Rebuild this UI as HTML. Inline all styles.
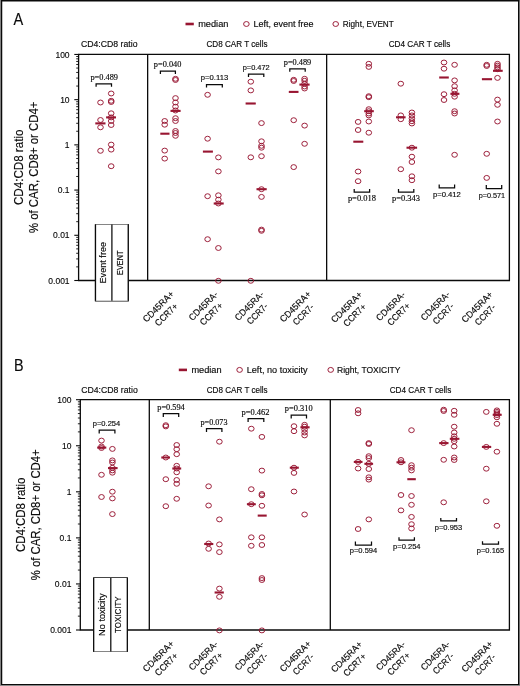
<!DOCTYPE html>
<html><head><meta charset="utf-8"><style>
html,body{margin:0;padding:0;background:#8a8a8a;}
body{width:520px;height:686px;overflow:hidden;}
svg{display:block;will-change:transform;}
text{stroke:#0a0a0a;stroke-width:0.15px;}
</style></head><body>
<svg width="520" height="686" viewBox="0 0 520 686">
<rect x="1" y="0" width="518" height="685" fill="#fff"/>
<line x1="1.6" y1="0" x2="1.6" y2="685.1" stroke="#0a0a0a" stroke-width="1.3"/>
<line x1="1" y1="0.7" x2="519.2" y2="0.7" stroke="#0a0a0a" stroke-width="1.4"/>
<line x1="518.6" y1="0" x2="518.6" y2="685.1" stroke="#0a0a0a" stroke-width="1.2"/>
<line x1="1" y1="684.5" x2="519.2" y2="684.5" stroke="#0a0a0a" stroke-width="1.2"/>
<path d="M78.6 54.45 H509.4 V280.5 H78.6 Z" fill="none" stroke="#0a0a0a" stroke-width="1.3"/>
<line x1="147.65" y1="54.45" x2="147.65" y2="280.5" stroke="#0a0a0a" stroke-width="1.3"/>
<line x1="326.65" y1="54.45" x2="326.65" y2="280.5" stroke="#0a0a0a" stroke-width="1.3"/>
<line x1="74.3" y1="280.5" x2="78.6" y2="280.5" stroke="#0a0a0a" stroke-width="1.1"/>
<line x1="76.19" y1="266.89" x2="78.6" y2="266.89" stroke="#0a0a0a" stroke-width="0.9"/>
<line x1="76.19" y1="258.92" x2="78.6" y2="258.92" stroke="#0a0a0a" stroke-width="0.9"/>
<line x1="76.19" y1="253.28" x2="78.6" y2="253.28" stroke="#0a0a0a" stroke-width="0.9"/>
<line x1="76.19" y1="248.89" x2="78.6" y2="248.89" stroke="#0a0a0a" stroke-width="0.9"/>
<line x1="76.19" y1="245.31" x2="78.6" y2="245.31" stroke="#0a0a0a" stroke-width="0.9"/>
<line x1="76.19" y1="242.29" x2="78.6" y2="242.29" stroke="#0a0a0a" stroke-width="0.9"/>
<line x1="76.19" y1="239.67" x2="78.6" y2="239.67" stroke="#0a0a0a" stroke-width="0.9"/>
<line x1="76.19" y1="237.35" x2="78.6" y2="237.35" stroke="#0a0a0a" stroke-width="0.9"/>
<line x1="74.3" y1="235.29" x2="78.6" y2="235.29" stroke="#0a0a0a" stroke-width="1.1"/>
<line x1="76.19" y1="221.68" x2="78.6" y2="221.68" stroke="#0a0a0a" stroke-width="0.9"/>
<line x1="76.19" y1="213.71" x2="78.6" y2="213.71" stroke="#0a0a0a" stroke-width="0.9"/>
<line x1="76.19" y1="208.07" x2="78.6" y2="208.07" stroke="#0a0a0a" stroke-width="0.9"/>
<line x1="76.19" y1="203.68" x2="78.6" y2="203.68" stroke="#0a0a0a" stroke-width="0.9"/>
<line x1="76.19" y1="200.10" x2="78.6" y2="200.10" stroke="#0a0a0a" stroke-width="0.9"/>
<line x1="76.19" y1="197.08" x2="78.6" y2="197.08" stroke="#0a0a0a" stroke-width="0.9"/>
<line x1="76.19" y1="194.46" x2="78.6" y2="194.46" stroke="#0a0a0a" stroke-width="0.9"/>
<line x1="76.19" y1="192.14" x2="78.6" y2="192.14" stroke="#0a0a0a" stroke-width="0.9"/>
<line x1="74.3" y1="190.07" x2="78.6" y2="190.07" stroke="#0a0a0a" stroke-width="1.1"/>
<line x1="76.19" y1="176.47" x2="78.6" y2="176.47" stroke="#0a0a0a" stroke-width="0.9"/>
<line x1="76.19" y1="168.50" x2="78.6" y2="168.50" stroke="#0a0a0a" stroke-width="0.9"/>
<line x1="76.19" y1="162.86" x2="78.6" y2="162.86" stroke="#0a0a0a" stroke-width="0.9"/>
<line x1="76.19" y1="158.47" x2="78.6" y2="158.47" stroke="#0a0a0a" stroke-width="0.9"/>
<line x1="76.19" y1="154.89" x2="78.6" y2="154.89" stroke="#0a0a0a" stroke-width="0.9"/>
<line x1="76.19" y1="151.87" x2="78.6" y2="151.87" stroke="#0a0a0a" stroke-width="0.9"/>
<line x1="76.19" y1="149.25" x2="78.6" y2="149.25" stroke="#0a0a0a" stroke-width="0.9"/>
<line x1="76.19" y1="146.93" x2="78.6" y2="146.93" stroke="#0a0a0a" stroke-width="0.9"/>
<line x1="74.3" y1="144.87" x2="78.6" y2="144.87" stroke="#0a0a0a" stroke-width="1.1"/>
<line x1="76.19" y1="131.26" x2="78.6" y2="131.26" stroke="#0a0a0a" stroke-width="0.9"/>
<line x1="76.19" y1="123.29" x2="78.6" y2="123.29" stroke="#0a0a0a" stroke-width="0.9"/>
<line x1="76.19" y1="117.65" x2="78.6" y2="117.65" stroke="#0a0a0a" stroke-width="0.9"/>
<line x1="76.19" y1="113.26" x2="78.6" y2="113.26" stroke="#0a0a0a" stroke-width="0.9"/>
<line x1="76.19" y1="109.68" x2="78.6" y2="109.68" stroke="#0a0a0a" stroke-width="0.9"/>
<line x1="76.19" y1="106.66" x2="78.6" y2="106.66" stroke="#0a0a0a" stroke-width="0.9"/>
<line x1="76.19" y1="104.04" x2="78.6" y2="104.04" stroke="#0a0a0a" stroke-width="0.9"/>
<line x1="76.19" y1="101.72" x2="78.6" y2="101.72" stroke="#0a0a0a" stroke-width="0.9"/>
<line x1="74.3" y1="99.66" x2="78.6" y2="99.66" stroke="#0a0a0a" stroke-width="1.1"/>
<line x1="76.19" y1="86.05" x2="78.6" y2="86.05" stroke="#0a0a0a" stroke-width="0.9"/>
<line x1="76.19" y1="78.08" x2="78.6" y2="78.08" stroke="#0a0a0a" stroke-width="0.9"/>
<line x1="76.19" y1="72.44" x2="78.6" y2="72.44" stroke="#0a0a0a" stroke-width="0.9"/>
<line x1="76.19" y1="68.05" x2="78.6" y2="68.05" stroke="#0a0a0a" stroke-width="0.9"/>
<line x1="76.19" y1="64.47" x2="78.6" y2="64.47" stroke="#0a0a0a" stroke-width="0.9"/>
<line x1="76.19" y1="61.45" x2="78.6" y2="61.45" stroke="#0a0a0a" stroke-width="0.9"/>
<line x1="76.19" y1="58.83" x2="78.6" y2="58.83" stroke="#0a0a0a" stroke-width="0.9"/>
<line x1="76.19" y1="56.51" x2="78.6" y2="56.51" stroke="#0a0a0a" stroke-width="0.9"/>
<line x1="74.3" y1="54.45" x2="78.6" y2="54.45" stroke="#0a0a0a" stroke-width="1.1"/>
<text x="69.6" y="283.7" font-size="9.2" text-anchor="end" font-family='"Liberation Sans", sans-serif' fill="#0a0a0a" textLength="21.27" lengthAdjust="spacingAndGlyphs" >0.001</text>
<text x="69.6" y="238.49" font-size="9.2" text-anchor="end" font-family='"Liberation Sans", sans-serif' fill="#0a0a0a" textLength="16.54" lengthAdjust="spacingAndGlyphs" >0.01</text>
<text x="69.6" y="193.28" font-size="9.2" text-anchor="end" font-family='"Liberation Sans", sans-serif' fill="#0a0a0a" textLength="11.82" lengthAdjust="spacingAndGlyphs" >0.1</text>
<text x="69.6" y="148.07" font-size="9.2" text-anchor="end" font-family='"Liberation Sans", sans-serif' fill="#0a0a0a" textLength="4.73" lengthAdjust="spacingAndGlyphs" >1</text>
<text x="69.6" y="102.86" font-size="9.2" text-anchor="end" font-family='"Liberation Sans", sans-serif' fill="#0a0a0a" textLength="9.45" lengthAdjust="spacingAndGlyphs" >10</text>
<text x="69.6" y="57.65" font-size="9.2" text-anchor="end" font-family='"Liberation Sans", sans-serif' fill="#0a0a0a" textLength="14.18" lengthAdjust="spacingAndGlyphs" >100</text>
<text transform="translate(22.8,167.3) rotate(-90)" font-size="12.8" text-anchor="middle" font-family='"Liberation Sans", sans-serif' fill="#0a0a0a" textLength="75.5" lengthAdjust="spacingAndGlyphs">CD4:CD8 ratio</text>
<text transform="translate(38.0,167.3) rotate(-90)" font-size="12.8" text-anchor="middle" font-family='"Liberation Sans", sans-serif' fill="#0a0a0a" textLength="131.5" lengthAdjust="spacingAndGlyphs">% of CAR, CD8+ or CD4+</text>
<text x="13.4" y="24.6" font-size="16.6" text-anchor="start" font-family='"Liberation Sans", sans-serif' fill="#0a0a0a" textLength="9.7" lengthAdjust="spacingAndGlyphs" >A</text>
<line x1="185.5" y1="24.0" x2="193.8" y2="24.0" stroke="#981531" stroke-width="2.6"/>
<text x="198.2" y="26.9" font-size="8.9" text-anchor="start" font-family='"Liberation Sans", sans-serif' fill="#0a0a0a" textLength="30.2" lengthAdjust="spacingAndGlyphs" >median</text>
<ellipse cx="246.4" cy="24.0" rx="2.8" ry="2.45" fill="none" stroke="#981531" stroke-width="0.95"/>
<text x="253.5" y="26.9" font-size="8.9" text-anchor="start" font-family='"Liberation Sans", sans-serif' fill="#0a0a0a" textLength="60.0" lengthAdjust="spacingAndGlyphs" >Left, event free</text>
<ellipse cx="335.7" cy="24.0" rx="2.8" ry="2.45" fill="none" stroke="#981531" stroke-width="0.95"/>
<text x="342.8" y="26.9" font-size="8.9" text-anchor="start" font-family='"Liberation Sans", sans-serif' fill="#0a0a0a" textLength="51.0" lengthAdjust="spacingAndGlyphs" >Right, EVENT</text>
<text x="109.2" y="47.2" font-size="9.4" text-anchor="middle" font-family='"Liberation Sans", sans-serif' fill="#0a0a0a" textLength="56.6" lengthAdjust="spacingAndGlyphs" >CD4:CD8 ratio</text>
<text x="237.0" y="47.2" font-size="9.4" text-anchor="middle" font-family='"Liberation Sans", sans-serif' fill="#0a0a0a" textLength="61.0" lengthAdjust="spacingAndGlyphs" >CD8 CAR T cells</text>
<text x="419.5" y="47.2" font-size="9.4" text-anchor="middle" font-family='"Liberation Sans", sans-serif' fill="#0a0a0a" textLength="61.6" lengthAdjust="spacingAndGlyphs" >CD4 CAR T cells</text>
<path d="M95.5 300.8 V224.6 H128.2 V300.8 Z" fill="#fff" stroke="#0a0a0a" stroke-width="1.25"/>
<path d="M95.5 300.8 V224.6 H128.2 V300.8 Z" fill="#fff" stroke="none"/>
<line x1="95.5" y1="224.6" x2="95.5" y2="300.8" stroke="#0a0a0a" stroke-width="1.25"/>
<line x1="128.2" y1="224.6" x2="128.2" y2="300.8" stroke="#0a0a0a" stroke-width="1.25"/>
<line x1="111.9" y1="224.6" x2="111.9" y2="300.8" stroke="#0a0a0a" stroke-width="1.25"/>
<text transform="translate(106.0,262.7) rotate(-90)" font-size="9.2" text-anchor="middle" font-family='"Liberation Sans", sans-serif' fill="#0a0a0a" textLength="41.5" lengthAdjust="spacingAndGlyphs">Event  free</text>
<text transform="translate(123.2,262.7) rotate(-90)" font-size="9.2" text-anchor="middle" font-family='"Liberation Sans", sans-serif' fill="#0a0a0a" textLength="24.5" lengthAdjust="spacingAndGlyphs">EVENT</text>
<g transform="translate(160.5,308.8) rotate(-45)" font-family='"Liberation Sans", sans-serif' font-size="9.2" fill="#0a0a0a" text-anchor="middle"><text x="0" y="0" textLength="39.8" lengthAdjust="spacingAndGlyphs">CD45RA+</text><text x="0" y="11.3" textLength="28.0" lengthAdjust="spacingAndGlyphs">CCR7+</text></g>
<g transform="translate(205.5,308.1) rotate(-45)" font-family='"Liberation Sans", sans-serif' font-size="9.2" fill="#0a0a0a" text-anchor="middle"><text x="0" y="0" textLength="37.0" lengthAdjust="spacingAndGlyphs">CD45RA-</text><text x="0" y="11.3" textLength="28.0" lengthAdjust="spacingAndGlyphs">CCR7+</text></g>
<g transform="translate(251.5,308.1) rotate(-45)" font-family='"Liberation Sans", sans-serif' font-size="9.2" fill="#0a0a0a" text-anchor="middle"><text x="0" y="0" textLength="37.0" lengthAdjust="spacingAndGlyphs">CD45RA-</text><text x="0" y="11.3" textLength="25.2" lengthAdjust="spacingAndGlyphs">CCR7-</text></g>
<g transform="translate(297.5,308.8) rotate(-45)" font-family='"Liberation Sans", sans-serif' font-size="9.2" fill="#0a0a0a" text-anchor="middle"><text x="0" y="0" textLength="39.8" lengthAdjust="spacingAndGlyphs">CD45RA+</text><text x="0" y="11.3" textLength="25.2" lengthAdjust="spacingAndGlyphs">CCR7-</text></g>
<g transform="translate(348.8,309.3) rotate(-45)" font-family='"Liberation Sans", sans-serif' font-size="9.2" fill="#0a0a0a" text-anchor="middle"><text x="0" y="0" textLength="39.8" lengthAdjust="spacingAndGlyphs">CD45RA+</text><text x="0" y="11.3" textLength="28.0" lengthAdjust="spacingAndGlyphs">CCR7+</text></g>
<g transform="translate(392.9,308.3) rotate(-45)" font-family='"Liberation Sans", sans-serif' font-size="9.2" fill="#0a0a0a" text-anchor="middle"><text x="0" y="0" textLength="37.0" lengthAdjust="spacingAndGlyphs">CD45RA-</text><text x="0" y="11.3" textLength="28.0" lengthAdjust="spacingAndGlyphs">CCR7+</text></g>
<g transform="translate(437.5,308.1) rotate(-45)" font-family='"Liberation Sans", sans-serif' font-size="9.2" fill="#0a0a0a" text-anchor="middle"><text x="0" y="0" textLength="37.0" lengthAdjust="spacingAndGlyphs">CD45RA-</text><text x="0" y="11.3" textLength="25.2" lengthAdjust="spacingAndGlyphs">CCR7-</text></g>
<g transform="translate(479.4,309.1) rotate(-45)" font-family='"Liberation Sans", sans-serif' font-size="9.2" fill="#0a0a0a" text-anchor="middle"><text x="0" y="0" textLength="39.8" lengthAdjust="spacingAndGlyphs">CD45RA+</text><text x="0" y="11.3" textLength="25.2" lengthAdjust="spacingAndGlyphs">CCR7-</text></g>
<ellipse cx="100.5" cy="102.5" rx="2.8" ry="2.45" fill="none" stroke="#981531" stroke-width="0.95"/>
<ellipse cx="100.5" cy="120" rx="2.8" ry="2.45" fill="none" stroke="#981531" stroke-width="0.95"/>
<ellipse cx="100.5" cy="127.3" rx="2.8" ry="2.45" fill="none" stroke="#981531" stroke-width="0.95"/>
<ellipse cx="100.5" cy="150.8" rx="2.8" ry="2.45" fill="none" stroke="#981531" stroke-width="0.95"/>
<ellipse cx="111.2" cy="93.5" rx="2.8" ry="2.45" fill="none" stroke="#981531" stroke-width="0.95"/>
<ellipse cx="111.2" cy="100.8" rx="2.8" ry="2.45" fill="none" stroke="#981531" stroke-width="0.95"/>
<ellipse cx="111.2" cy="102" rx="2.8" ry="2.45" fill="none" stroke="#981531" stroke-width="0.95"/>
<ellipse cx="111.2" cy="113.3" rx="2.8" ry="2.45" fill="none" stroke="#981531" stroke-width="0.95"/>
<ellipse cx="111.2" cy="117.4" rx="2.8" ry="2.45" fill="none" stroke="#981531" stroke-width="0.95"/>
<ellipse cx="111.2" cy="121" rx="2.8" ry="2.45" fill="none" stroke="#981531" stroke-width="0.95"/>
<ellipse cx="111.2" cy="125" rx="2.8" ry="2.45" fill="none" stroke="#981531" stroke-width="0.95"/>
<ellipse cx="111.2" cy="144.6" rx="2.8" ry="2.45" fill="none" stroke="#981531" stroke-width="0.95"/>
<ellipse cx="111.2" cy="149.6" rx="2.8" ry="2.45" fill="none" stroke="#981531" stroke-width="0.95"/>
<ellipse cx="111.2" cy="166.2" rx="2.8" ry="2.45" fill="none" stroke="#981531" stroke-width="0.95"/>
<ellipse cx="164.7" cy="121" rx="2.8" ry="2.45" fill="none" stroke="#981531" stroke-width="0.95"/>
<ellipse cx="164.7" cy="124.7" rx="2.8" ry="2.45" fill="none" stroke="#981531" stroke-width="0.95"/>
<ellipse cx="164.7" cy="150.6" rx="2.8" ry="2.45" fill="none" stroke="#981531" stroke-width="0.95"/>
<ellipse cx="164.7" cy="158.6" rx="2.8" ry="2.45" fill="none" stroke="#981531" stroke-width="0.95"/>
<ellipse cx="175.5" cy="78.8" rx="2.8" ry="2.45" fill="none" stroke="#981531" stroke-width="0.95"/>
<ellipse cx="175.5" cy="80" rx="2.8" ry="2.45" fill="none" stroke="#981531" stroke-width="0.95"/>
<ellipse cx="175.5" cy="98.1" rx="2.8" ry="2.45" fill="none" stroke="#981531" stroke-width="0.95"/>
<ellipse cx="175.5" cy="102.5" rx="2.8" ry="2.45" fill="none" stroke="#981531" stroke-width="0.95"/>
<ellipse cx="175.5" cy="106.7" rx="2.8" ry="2.45" fill="none" stroke="#981531" stroke-width="0.95"/>
<ellipse cx="175.5" cy="110.5" rx="2.8" ry="2.45" fill="none" stroke="#981531" stroke-width="0.95"/>
<ellipse cx="175.5" cy="118.2" rx="2.8" ry="2.45" fill="none" stroke="#981531" stroke-width="0.95"/>
<ellipse cx="175.5" cy="121" rx="2.8" ry="2.45" fill="none" stroke="#981531" stroke-width="0.95"/>
<ellipse cx="175.5" cy="131" rx="2.8" ry="2.45" fill="none" stroke="#981531" stroke-width="0.95"/>
<ellipse cx="175.5" cy="133" rx="2.8" ry="2.45" fill="none" stroke="#981531" stroke-width="0.95"/>
<ellipse cx="175.5" cy="135.8" rx="2.8" ry="2.45" fill="none" stroke="#981531" stroke-width="0.95"/>
<ellipse cx="207.6" cy="94.8" rx="2.8" ry="2.45" fill="none" stroke="#981531" stroke-width="0.95"/>
<ellipse cx="207.6" cy="138.7" rx="2.8" ry="2.45" fill="none" stroke="#981531" stroke-width="0.95"/>
<ellipse cx="207.6" cy="196.2" rx="2.8" ry="2.45" fill="none" stroke="#981531" stroke-width="0.95"/>
<ellipse cx="207.6" cy="239.2" rx="2.8" ry="2.45" fill="none" stroke="#981531" stroke-width="0.95"/>
<ellipse cx="218.4" cy="157.4" rx="2.8" ry="2.45" fill="none" stroke="#981531" stroke-width="0.95"/>
<ellipse cx="218.4" cy="171.4" rx="2.8" ry="2.45" fill="none" stroke="#981531" stroke-width="0.95"/>
<ellipse cx="218.4" cy="195.3" rx="2.8" ry="2.45" fill="none" stroke="#981531" stroke-width="0.95"/>
<ellipse cx="218.4" cy="199.7" rx="2.8" ry="2.45" fill="none" stroke="#981531" stroke-width="0.95"/>
<ellipse cx="218.4" cy="203.5" rx="2.8" ry="2.45" fill="none" stroke="#981531" stroke-width="0.95"/>
<ellipse cx="218.4" cy="248" rx="2.8" ry="2.45" fill="none" stroke="#981531" stroke-width="0.95"/>
<ellipse cx="218.4" cy="280.8" rx="2.8" ry="2.45" fill="none" stroke="#981531" stroke-width="0.95"/>
<ellipse cx="250.8" cy="81.7" rx="2.8" ry="2.45" fill="none" stroke="#981531" stroke-width="0.95"/>
<ellipse cx="250.8" cy="90.4" rx="2.8" ry="2.45" fill="none" stroke="#981531" stroke-width="0.95"/>
<ellipse cx="250.8" cy="157.3" rx="2.8" ry="2.45" fill="none" stroke="#981531" stroke-width="0.95"/>
<ellipse cx="250.8" cy="280.8" rx="2.8" ry="2.45" fill="none" stroke="#981531" stroke-width="0.95"/>
<ellipse cx="261.5" cy="123.1" rx="2.8" ry="2.45" fill="none" stroke="#981531" stroke-width="0.95"/>
<ellipse cx="261.5" cy="141.3" rx="2.8" ry="2.45" fill="none" stroke="#981531" stroke-width="0.95"/>
<ellipse cx="261.5" cy="145.8" rx="2.8" ry="2.45" fill="none" stroke="#981531" stroke-width="0.95"/>
<ellipse cx="261.5" cy="147.7" rx="2.8" ry="2.45" fill="none" stroke="#981531" stroke-width="0.95"/>
<ellipse cx="261.5" cy="156.2" rx="2.8" ry="2.45" fill="none" stroke="#981531" stroke-width="0.95"/>
<ellipse cx="261.5" cy="189.2" rx="2.8" ry="2.45" fill="none" stroke="#981531" stroke-width="0.95"/>
<ellipse cx="261.5" cy="196.9" rx="2.8" ry="2.45" fill="none" stroke="#981531" stroke-width="0.95"/>
<ellipse cx="261.5" cy="229.6" rx="2.8" ry="2.45" fill="none" stroke="#981531" stroke-width="0.95"/>
<ellipse cx="261.5" cy="230.8" rx="2.8" ry="2.45" fill="none" stroke="#981531" stroke-width="0.95"/>
<ellipse cx="293.7" cy="79.8" rx="2.8" ry="2.45" fill="none" stroke="#981531" stroke-width="0.95"/>
<ellipse cx="293.7" cy="81" rx="2.8" ry="2.45" fill="none" stroke="#981531" stroke-width="0.95"/>
<ellipse cx="293.7" cy="120.2" rx="2.8" ry="2.45" fill="none" stroke="#981531" stroke-width="0.95"/>
<ellipse cx="293.7" cy="167.1" rx="2.8" ry="2.45" fill="none" stroke="#981531" stroke-width="0.95"/>
<ellipse cx="304.6" cy="78.8" rx="2.8" ry="2.45" fill="none" stroke="#981531" stroke-width="0.95"/>
<ellipse cx="304.6" cy="80.8" rx="2.8" ry="2.45" fill="none" stroke="#981531" stroke-width="0.95"/>
<ellipse cx="304.6" cy="83.7" rx="2.8" ry="2.45" fill="none" stroke="#981531" stroke-width="0.95"/>
<ellipse cx="304.6" cy="86.5" rx="2.8" ry="2.45" fill="none" stroke="#981531" stroke-width="0.95"/>
<ellipse cx="304.6" cy="88.5" rx="2.8" ry="2.45" fill="none" stroke="#981531" stroke-width="0.95"/>
<ellipse cx="304.6" cy="125.6" rx="2.8" ry="2.45" fill="none" stroke="#981531" stroke-width="0.95"/>
<ellipse cx="304.6" cy="143.8" rx="2.8" ry="2.45" fill="none" stroke="#981531" stroke-width="0.95"/>
<ellipse cx="358.1" cy="121.9" rx="2.8" ry="2.45" fill="none" stroke="#981531" stroke-width="0.95"/>
<ellipse cx="358.1" cy="130" rx="2.8" ry="2.45" fill="none" stroke="#981531" stroke-width="0.95"/>
<ellipse cx="358.1" cy="171.5" rx="2.8" ry="2.45" fill="none" stroke="#981531" stroke-width="0.95"/>
<ellipse cx="358.1" cy="181.2" rx="2.8" ry="2.45" fill="none" stroke="#981531" stroke-width="0.95"/>
<ellipse cx="368.8" cy="63.8" rx="2.8" ry="2.45" fill="none" stroke="#981531" stroke-width="0.95"/>
<ellipse cx="368.8" cy="66.9" rx="2.8" ry="2.45" fill="none" stroke="#981531" stroke-width="0.95"/>
<ellipse cx="368.8" cy="96.2" rx="2.8" ry="2.45" fill="none" stroke="#981531" stroke-width="0.95"/>
<ellipse cx="368.8" cy="97.2" rx="2.8" ry="2.45" fill="none" stroke="#981531" stroke-width="0.95"/>
<ellipse cx="368.8" cy="109.2" rx="2.8" ry="2.45" fill="none" stroke="#981531" stroke-width="0.95"/>
<ellipse cx="368.8" cy="111.2" rx="2.8" ry="2.45" fill="none" stroke="#981531" stroke-width="0.95"/>
<ellipse cx="368.8" cy="113.5" rx="2.8" ry="2.45" fill="none" stroke="#981531" stroke-width="0.95"/>
<ellipse cx="368.8" cy="115.4" rx="2.8" ry="2.45" fill="none" stroke="#981531" stroke-width="0.95"/>
<ellipse cx="368.8" cy="121.5" rx="2.8" ry="2.45" fill="none" stroke="#981531" stroke-width="0.95"/>
<ellipse cx="368.8" cy="132.7" rx="2.8" ry="2.45" fill="none" stroke="#981531" stroke-width="0.95"/>
<ellipse cx="400.8" cy="83.7" rx="2.8" ry="2.45" fill="none" stroke="#981531" stroke-width="0.95"/>
<ellipse cx="400.8" cy="115.4" rx="2.8" ry="2.45" fill="none" stroke="#981531" stroke-width="0.95"/>
<ellipse cx="400.8" cy="119.2" rx="2.8" ry="2.45" fill="none" stroke="#981531" stroke-width="0.95"/>
<ellipse cx="400.8" cy="169.2" rx="2.8" ry="2.45" fill="none" stroke="#981531" stroke-width="0.95"/>
<ellipse cx="411.9" cy="112.5" rx="2.8" ry="2.45" fill="none" stroke="#981531" stroke-width="0.95"/>
<ellipse cx="411.9" cy="115.4" rx="2.8" ry="2.45" fill="none" stroke="#981531" stroke-width="0.95"/>
<ellipse cx="411.9" cy="118.3" rx="2.8" ry="2.45" fill="none" stroke="#981531" stroke-width="0.95"/>
<ellipse cx="411.9" cy="121.2" rx="2.8" ry="2.45" fill="none" stroke="#981531" stroke-width="0.95"/>
<ellipse cx="411.9" cy="123.5" rx="2.8" ry="2.45" fill="none" stroke="#981531" stroke-width="0.95"/>
<ellipse cx="411.9" cy="147.7" rx="2.8" ry="2.45" fill="none" stroke="#981531" stroke-width="0.95"/>
<ellipse cx="411.9" cy="156.7" rx="2.8" ry="2.45" fill="none" stroke="#981531" stroke-width="0.95"/>
<ellipse cx="411.9" cy="162" rx="2.8" ry="2.45" fill="none" stroke="#981531" stroke-width="0.95"/>
<ellipse cx="411.9" cy="176.3" rx="2.8" ry="2.45" fill="none" stroke="#981531" stroke-width="0.95"/>
<ellipse cx="411.9" cy="180.2" rx="2.8" ry="2.45" fill="none" stroke="#981531" stroke-width="0.95"/>
<ellipse cx="444.0" cy="62.5" rx="2.8" ry="2.45" fill="none" stroke="#981531" stroke-width="0.95"/>
<ellipse cx="444.0" cy="68.7" rx="2.8" ry="2.45" fill="none" stroke="#981531" stroke-width="0.95"/>
<ellipse cx="444.0" cy="94.2" rx="2.8" ry="2.45" fill="none" stroke="#981531" stroke-width="0.95"/>
<ellipse cx="444.0" cy="100" rx="2.8" ry="2.45" fill="none" stroke="#981531" stroke-width="0.95"/>
<ellipse cx="454.6" cy="64.8" rx="2.8" ry="2.45" fill="none" stroke="#981531" stroke-width="0.95"/>
<ellipse cx="454.6" cy="80.4" rx="2.8" ry="2.45" fill="none" stroke="#981531" stroke-width="0.95"/>
<ellipse cx="454.6" cy="86.2" rx="2.8" ry="2.45" fill="none" stroke="#981531" stroke-width="0.95"/>
<ellipse cx="454.6" cy="90.4" rx="2.8" ry="2.45" fill="none" stroke="#981531" stroke-width="0.95"/>
<ellipse cx="454.6" cy="93.8" rx="2.8" ry="2.45" fill="none" stroke="#981531" stroke-width="0.95"/>
<ellipse cx="454.6" cy="96.7" rx="2.8" ry="2.45" fill="none" stroke="#981531" stroke-width="0.95"/>
<ellipse cx="454.6" cy="111.2" rx="2.8" ry="2.45" fill="none" stroke="#981531" stroke-width="0.95"/>
<ellipse cx="454.6" cy="113.5" rx="2.8" ry="2.45" fill="none" stroke="#981531" stroke-width="0.95"/>
<ellipse cx="454.6" cy="154.8" rx="2.8" ry="2.45" fill="none" stroke="#981531" stroke-width="0.95"/>
<ellipse cx="486.7" cy="64.8" rx="2.8" ry="2.45" fill="none" stroke="#981531" stroke-width="0.95"/>
<ellipse cx="486.7" cy="66" rx="2.8" ry="2.45" fill="none" stroke="#981531" stroke-width="0.95"/>
<ellipse cx="486.7" cy="153.8" rx="2.8" ry="2.45" fill="none" stroke="#981531" stroke-width="0.95"/>
<ellipse cx="486.7" cy="177.9" rx="2.8" ry="2.45" fill="none" stroke="#981531" stroke-width="0.95"/>
<ellipse cx="497.5" cy="63.8" rx="2.8" ry="2.45" fill="none" stroke="#981531" stroke-width="0.95"/>
<ellipse cx="497.5" cy="65.6" rx="2.8" ry="2.45" fill="none" stroke="#981531" stroke-width="0.95"/>
<ellipse cx="497.5" cy="67.4" rx="2.8" ry="2.45" fill="none" stroke="#981531" stroke-width="0.95"/>
<ellipse cx="497.5" cy="69.2" rx="2.8" ry="2.45" fill="none" stroke="#981531" stroke-width="0.95"/>
<ellipse cx="497.5" cy="77.9" rx="2.8" ry="2.45" fill="none" stroke="#981531" stroke-width="0.95"/>
<ellipse cx="497.5" cy="99.6" rx="2.8" ry="2.45" fill="none" stroke="#981531" stroke-width="0.95"/>
<ellipse cx="497.5" cy="104.8" rx="2.8" ry="2.45" fill="none" stroke="#981531" stroke-width="0.95"/>
<ellipse cx="497.5" cy="121.5" rx="2.8" ry="2.45" fill="none" stroke="#981531" stroke-width="0.95"/>
<line x1="95.3" y1="123.4" x2="105.5" y2="123.4" stroke="#981531" stroke-width="2.1"/>
<line x1="106.1" y1="117.4" x2="116.0" y2="117.4" stroke="#981531" stroke-width="2.1"/>
<line x1="160.3" y1="133.7" x2="169.5" y2="133.7" stroke="#981531" stroke-width="2.1"/>
<line x1="170.5" y1="110.9" x2="180.6" y2="110.9" stroke="#981531" stroke-width="2.1"/>
<line x1="202.9" y1="151.6" x2="212.9" y2="151.6" stroke="#981531" stroke-width="2.1"/>
<line x1="213.7" y1="203.5" x2="223.7" y2="203.5" stroke="#981531" stroke-width="2.1"/>
<line x1="245.6" y1="103.5" x2="255.8" y2="103.5" stroke="#981531" stroke-width="2.1"/>
<line x1="256.5" y1="189.2" x2="266.7" y2="189.2" stroke="#981531" stroke-width="2.1"/>
<line x1="288.8" y1="91.9" x2="298.5" y2="91.9" stroke="#981531" stroke-width="2.1"/>
<line x1="299.4" y1="84.6" x2="309.6" y2="84.6" stroke="#981531" stroke-width="2.1"/>
<line x1="353.3" y1="141.7" x2="363.3" y2="141.7" stroke="#981531" stroke-width="2.1"/>
<line x1="364.2" y1="111.2" x2="373.8" y2="111.2" stroke="#981531" stroke-width="2.1"/>
<line x1="396.0" y1="117.3" x2="405.6" y2="117.3" stroke="#981531" stroke-width="2.1"/>
<line x1="406.5" y1="147.7" x2="417.1" y2="147.7" stroke="#981531" stroke-width="2.1"/>
<line x1="439.2" y1="77.5" x2="448.8" y2="77.5" stroke="#981531" stroke-width="2.1"/>
<line x1="450.4" y1="93.8" x2="459.4" y2="93.8" stroke="#981531" stroke-width="2.1"/>
<line x1="481.9" y1="79.2" x2="492.1" y2="79.2" stroke="#981531" stroke-width="2.1"/>
<line x1="493.0" y1="70.8" x2="502.7" y2="70.8" stroke="#981531" stroke-width="2.1"/>
<path d="M96.1 86.8 V83.8 H111.5 V86.8" fill="none" stroke="#0a0a0a" stroke-width="1.25"/>
<text x="104.2" y="79.6" font-size="7.6" text-anchor="middle" font-family='"Liberation Serif", serif' fill="#0a0a0a" textLength="27.5" lengthAdjust="spacingAndGlyphs" >p=0.489</text>
<path d="M160.4 74.0 V71.2 H175.4 V74.0" fill="none" stroke="#0a0a0a" stroke-width="1.25"/>
<text x="167.6" y="66.8" font-size="7.6" text-anchor="middle" font-family='"Liberation Serif", serif' fill="#0a0a0a" textLength="27.5" lengthAdjust="spacingAndGlyphs" >p=0.040</text>
<path d="M206.5 87.5 V84.6 H222.3 V87.5" fill="none" stroke="#0a0a0a" stroke-width="1.25"/>
<text x="214.5" y="79.9" font-size="7.4" text-anchor="middle" font-family='"Liberation Sans", sans-serif' fill="#0a0a0a" textLength="27.3" lengthAdjust="spacingAndGlyphs" >p=0.113</text>
<path d="M248.5 77.0 V74.0 H263.8 V77.0" fill="none" stroke="#0a0a0a" stroke-width="1.25"/>
<text x="256.2" y="69.9" font-size="7.4" text-anchor="middle" font-family='"Liberation Sans", sans-serif' fill="#0a0a0a" textLength="27.0" lengthAdjust="spacingAndGlyphs" >p=0.472</text>
<path d="M289.8 71.7 V68.8 H305.2 V71.7" fill="none" stroke="#0a0a0a" stroke-width="1.25"/>
<text x="297.5" y="65.1" font-size="7.6" text-anchor="middle" font-family='"Liberation Serif", serif' fill="#0a0a0a" textLength="27.5" lengthAdjust="spacingAndGlyphs" >p=0.489</text>
<path d="M354.2 189.0 V192.0 H369.6 V189.0" fill="none" stroke="#0a0a0a" stroke-width="1.25"/>
<text x="361.9" y="201.2" font-size="7.6" text-anchor="middle" font-family='"Liberation Serif", serif' fill="#0a0a0a" textLength="28.0" lengthAdjust="spacingAndGlyphs" >p=0.018</text>
<path d="M398.5 189.0 V192.0 H413.8 V189.0" fill="none" stroke="#0a0a0a" stroke-width="1.25"/>
<text x="406.0" y="201.2" font-size="7.6" text-anchor="middle" font-family='"Liberation Serif", serif' fill="#0a0a0a" textLength="28.0" lengthAdjust="spacingAndGlyphs" >p=0.343</text>
<path d="M439.2 184.6 V187.9 H454.6 V184.6" fill="none" stroke="#0a0a0a" stroke-width="1.25"/>
<text x="446.9" y="196.9" font-size="7.4" text-anchor="middle" font-family='"Liberation Sans", sans-serif' fill="#0a0a0a" textLength="28.0" lengthAdjust="spacingAndGlyphs" >p=0.412</text>
<path d="M486.3 185.0 V188.5 H501.7 V185.0" fill="none" stroke="#0a0a0a" stroke-width="1.25"/>
<text x="491.9" y="197.5" font-size="7.4" text-anchor="middle" font-family='"Liberation Sans", sans-serif' fill="#0a0a0a" textLength="26.5" lengthAdjust="spacingAndGlyphs" >p=0.571</text>
<path d="M80.3 399.7 H509.4 V630.0 H80.3 Z" fill="none" stroke="#0a0a0a" stroke-width="1.3"/>
<line x1="149.3" y1="399.7" x2="149.3" y2="630.0" stroke="#0a0a0a" stroke-width="1.3"/>
<line x1="330.3" y1="399.7" x2="330.3" y2="630.0" stroke="#0a0a0a" stroke-width="1.3"/>
<line x1="76.0" y1="630.0" x2="80.3" y2="630.0" stroke="#0a0a0a" stroke-width="1.1"/>
<line x1="77.89" y1="616.13" x2="80.3" y2="616.13" stroke="#0a0a0a" stroke-width="0.9"/>
<line x1="77.89" y1="608.02" x2="80.3" y2="608.02" stroke="#0a0a0a" stroke-width="0.9"/>
<line x1="77.89" y1="602.26" x2="80.3" y2="602.26" stroke="#0a0a0a" stroke-width="0.9"/>
<line x1="77.89" y1="597.80" x2="80.3" y2="597.80" stroke="#0a0a0a" stroke-width="0.9"/>
<line x1="77.89" y1="594.15" x2="80.3" y2="594.15" stroke="#0a0a0a" stroke-width="0.9"/>
<line x1="77.89" y1="591.07" x2="80.3" y2="591.07" stroke="#0a0a0a" stroke-width="0.9"/>
<line x1="77.89" y1="588.40" x2="80.3" y2="588.40" stroke="#0a0a0a" stroke-width="0.9"/>
<line x1="77.89" y1="586.04" x2="80.3" y2="586.04" stroke="#0a0a0a" stroke-width="0.9"/>
<line x1="76.0" y1="583.94" x2="80.3" y2="583.94" stroke="#0a0a0a" stroke-width="1.1"/>
<line x1="77.89" y1="570.07" x2="80.3" y2="570.07" stroke="#0a0a0a" stroke-width="0.9"/>
<line x1="77.89" y1="561.96" x2="80.3" y2="561.96" stroke="#0a0a0a" stroke-width="0.9"/>
<line x1="77.89" y1="556.20" x2="80.3" y2="556.20" stroke="#0a0a0a" stroke-width="0.9"/>
<line x1="77.89" y1="551.74" x2="80.3" y2="551.74" stroke="#0a0a0a" stroke-width="0.9"/>
<line x1="77.89" y1="548.09" x2="80.3" y2="548.09" stroke="#0a0a0a" stroke-width="0.9"/>
<line x1="77.89" y1="545.01" x2="80.3" y2="545.01" stroke="#0a0a0a" stroke-width="0.9"/>
<line x1="77.89" y1="542.34" x2="80.3" y2="542.34" stroke="#0a0a0a" stroke-width="0.9"/>
<line x1="77.89" y1="539.98" x2="80.3" y2="539.98" stroke="#0a0a0a" stroke-width="0.9"/>
<line x1="76.0" y1="537.88" x2="80.3" y2="537.88" stroke="#0a0a0a" stroke-width="1.1"/>
<line x1="77.89" y1="524.01" x2="80.3" y2="524.01" stroke="#0a0a0a" stroke-width="0.9"/>
<line x1="77.89" y1="515.90" x2="80.3" y2="515.90" stroke="#0a0a0a" stroke-width="0.9"/>
<line x1="77.89" y1="510.14" x2="80.3" y2="510.14" stroke="#0a0a0a" stroke-width="0.9"/>
<line x1="77.89" y1="505.68" x2="80.3" y2="505.68" stroke="#0a0a0a" stroke-width="0.9"/>
<line x1="77.89" y1="502.03" x2="80.3" y2="502.03" stroke="#0a0a0a" stroke-width="0.9"/>
<line x1="77.89" y1="498.95" x2="80.3" y2="498.95" stroke="#0a0a0a" stroke-width="0.9"/>
<line x1="77.89" y1="496.28" x2="80.3" y2="496.28" stroke="#0a0a0a" stroke-width="0.9"/>
<line x1="77.89" y1="493.92" x2="80.3" y2="493.92" stroke="#0a0a0a" stroke-width="0.9"/>
<line x1="76.0" y1="491.82" x2="80.3" y2="491.82" stroke="#0a0a0a" stroke-width="1.1"/>
<line x1="77.89" y1="477.95" x2="80.3" y2="477.95" stroke="#0a0a0a" stroke-width="0.9"/>
<line x1="77.89" y1="469.84" x2="80.3" y2="469.84" stroke="#0a0a0a" stroke-width="0.9"/>
<line x1="77.89" y1="464.08" x2="80.3" y2="464.08" stroke="#0a0a0a" stroke-width="0.9"/>
<line x1="77.89" y1="459.62" x2="80.3" y2="459.62" stroke="#0a0a0a" stroke-width="0.9"/>
<line x1="77.89" y1="455.97" x2="80.3" y2="455.97" stroke="#0a0a0a" stroke-width="0.9"/>
<line x1="77.89" y1="452.89" x2="80.3" y2="452.89" stroke="#0a0a0a" stroke-width="0.9"/>
<line x1="77.89" y1="450.22" x2="80.3" y2="450.22" stroke="#0a0a0a" stroke-width="0.9"/>
<line x1="77.89" y1="447.86" x2="80.3" y2="447.86" stroke="#0a0a0a" stroke-width="0.9"/>
<line x1="76.0" y1="445.76" x2="80.3" y2="445.76" stroke="#0a0a0a" stroke-width="1.1"/>
<line x1="77.89" y1="431.89" x2="80.3" y2="431.89" stroke="#0a0a0a" stroke-width="0.9"/>
<line x1="77.89" y1="423.78" x2="80.3" y2="423.78" stroke="#0a0a0a" stroke-width="0.9"/>
<line x1="77.89" y1="418.02" x2="80.3" y2="418.02" stroke="#0a0a0a" stroke-width="0.9"/>
<line x1="77.89" y1="413.56" x2="80.3" y2="413.56" stroke="#0a0a0a" stroke-width="0.9"/>
<line x1="77.89" y1="409.91" x2="80.3" y2="409.91" stroke="#0a0a0a" stroke-width="0.9"/>
<line x1="77.89" y1="406.83" x2="80.3" y2="406.83" stroke="#0a0a0a" stroke-width="0.9"/>
<line x1="77.89" y1="404.16" x2="80.3" y2="404.16" stroke="#0a0a0a" stroke-width="0.9"/>
<line x1="77.89" y1="401.80" x2="80.3" y2="401.80" stroke="#0a0a0a" stroke-width="0.9"/>
<line x1="76.0" y1="399.7" x2="80.3" y2="399.7" stroke="#0a0a0a" stroke-width="1.1"/>
<text x="71.4" y="633.2" font-size="9.2" text-anchor="end" font-family='"Liberation Sans", sans-serif' fill="#0a0a0a" textLength="21.27" lengthAdjust="spacingAndGlyphs" >0.001</text>
<text x="71.4" y="587.14" font-size="9.2" text-anchor="end" font-family='"Liberation Sans", sans-serif' fill="#0a0a0a" textLength="16.54" lengthAdjust="spacingAndGlyphs" >0.01</text>
<text x="71.4" y="541.08" font-size="9.2" text-anchor="end" font-family='"Liberation Sans", sans-serif' fill="#0a0a0a" textLength="11.82" lengthAdjust="spacingAndGlyphs" >0.1</text>
<text x="71.4" y="495.02" font-size="9.2" text-anchor="end" font-family='"Liberation Sans", sans-serif' fill="#0a0a0a" textLength="4.73" lengthAdjust="spacingAndGlyphs" >1</text>
<text x="71.4" y="448.96" font-size="9.2" text-anchor="end" font-family='"Liberation Sans", sans-serif' fill="#0a0a0a" textLength="9.45" lengthAdjust="spacingAndGlyphs" >10</text>
<text x="71.4" y="402.9" font-size="9.2" text-anchor="end" font-family='"Liberation Sans", sans-serif' fill="#0a0a0a" textLength="14.18" lengthAdjust="spacingAndGlyphs" >100</text>
<text transform="translate(24.5,514.8) rotate(-90)" font-size="12.8" text-anchor="middle" font-family='"Liberation Sans", sans-serif' fill="#0a0a0a" textLength="74.5" lengthAdjust="spacingAndGlyphs">CD4:CD8 ratio</text>
<text transform="translate(40.1,514.8) rotate(-90)" font-size="12.8" text-anchor="middle" font-family='"Liberation Sans", sans-serif' fill="#0a0a0a" textLength="131.0" lengthAdjust="spacingAndGlyphs">% of CAR, CD8+ or CD4+</text>
<text x="13.9" y="370.5" font-size="16.6" text-anchor="start" font-family='"Liberation Sans", sans-serif' fill="#0a0a0a" textLength="9.6" lengthAdjust="spacingAndGlyphs" >B</text>
<line x1="178.8" y1="369.9" x2="187.0" y2="369.9" stroke="#981531" stroke-width="2.6"/>
<text x="191.4" y="372.79" font-size="8.9" text-anchor="start" font-family='"Liberation Sans", sans-serif' fill="#0a0a0a" textLength="30.2" lengthAdjust="spacingAndGlyphs" >median</text>
<ellipse cx="239.6" cy="369.9" rx="2.8" ry="2.45" fill="none" stroke="#981531" stroke-width="0.95"/>
<text x="246.7" y="372.79" font-size="8.9" text-anchor="start" font-family='"Liberation Sans", sans-serif' fill="#0a0a0a" textLength="61.0" lengthAdjust="spacingAndGlyphs" >Left, no toxicity</text>
<ellipse cx="330.7" cy="369.9" rx="2.8" ry="2.45" fill="none" stroke="#981531" stroke-width="0.95"/>
<text x="337.0" y="372.79" font-size="8.9" text-anchor="start" font-family='"Liberation Sans", sans-serif' fill="#0a0a0a" textLength="63.5" lengthAdjust="spacingAndGlyphs" >Right, TOXICITY</text>
<text x="109.5" y="392.6" font-size="9.4" text-anchor="middle" font-family='"Liberation Sans", sans-serif' fill="#0a0a0a" textLength="56.6" lengthAdjust="spacingAndGlyphs" >CD4:CD8 ratio</text>
<text x="237.2" y="392.6" font-size="9.4" text-anchor="middle" font-family='"Liberation Sans", sans-serif' fill="#0a0a0a" textLength="61.0" lengthAdjust="spacingAndGlyphs" >CD8 CAR T cells</text>
<text x="420.5" y="392.6" font-size="9.4" text-anchor="middle" font-family='"Liberation Sans", sans-serif' fill="#0a0a0a" textLength="61.6" lengthAdjust="spacingAndGlyphs" >CD4 CAR T cells</text>
<path d="M93.7 651.4 V577.9 H127.3 V651.4 Z" fill="#fff" stroke="#0a0a0a" stroke-width="1.25"/>
<path d="M93.7 651.4 V577.9 H127.3 V651.4 Z" fill="#fff" stroke="none"/>
<line x1="93.7" y1="577.9" x2="93.7" y2="651.4" stroke="#0a0a0a" stroke-width="1.25"/>
<line x1="127.3" y1="577.9" x2="127.3" y2="651.4" stroke="#0a0a0a" stroke-width="1.25"/>
<line x1="110.8" y1="577.9" x2="110.8" y2="651.4" stroke="#0a0a0a" stroke-width="1.25"/>
<text transform="translate(104.5,614.65) rotate(-90)" font-size="9.2" text-anchor="middle" font-family='"Liberation Sans", sans-serif' fill="#0a0a0a" textLength="42.5" lengthAdjust="spacingAndGlyphs">No toxicity</text>
<text transform="translate(121.3,614.65) rotate(-90)" font-size="9.2" text-anchor="middle" font-family='"Liberation Sans", sans-serif' fill="#0a0a0a" textLength="36.5" lengthAdjust="spacingAndGlyphs">TOXICITY</text>
<g transform="translate(160.5,658.5) rotate(-45)" font-family='"Liberation Sans", sans-serif' font-size="9.2" fill="#0a0a0a" text-anchor="middle"><text x="0" y="0" textLength="39.8" lengthAdjust="spacingAndGlyphs">CD45RA+</text><text x="0" y="11.3" textLength="28.0" lengthAdjust="spacingAndGlyphs">CCR7+</text></g>
<g transform="translate(205.5,657.8) rotate(-45)" font-family='"Liberation Sans", sans-serif' font-size="9.2" fill="#0a0a0a" text-anchor="middle"><text x="0" y="0" textLength="37.0" lengthAdjust="spacingAndGlyphs">CD45RA-</text><text x="0" y="11.3" textLength="28.0" lengthAdjust="spacingAndGlyphs">CCR7+</text></g>
<g transform="translate(251.5,657.8) rotate(-45)" font-family='"Liberation Sans", sans-serif' font-size="9.2" fill="#0a0a0a" text-anchor="middle"><text x="0" y="0" textLength="37.0" lengthAdjust="spacingAndGlyphs">CD45RA-</text><text x="0" y="11.3" textLength="25.2" lengthAdjust="spacingAndGlyphs">CCR7-</text></g>
<g transform="translate(297.5,658.5) rotate(-45)" font-family='"Liberation Sans", sans-serif' font-size="9.2" fill="#0a0a0a" text-anchor="middle"><text x="0" y="0" textLength="39.8" lengthAdjust="spacingAndGlyphs">CD45RA+</text><text x="0" y="11.3" textLength="25.2" lengthAdjust="spacingAndGlyphs">CCR7-</text></g>
<g transform="translate(348.8,659.0) rotate(-45)" font-family='"Liberation Sans", sans-serif' font-size="9.2" fill="#0a0a0a" text-anchor="middle"><text x="0" y="0" textLength="39.8" lengthAdjust="spacingAndGlyphs">CD45RA+</text><text x="0" y="11.3" textLength="28.0" lengthAdjust="spacingAndGlyphs">CCR7+</text></g>
<g transform="translate(392.9,658.0) rotate(-45)" font-family='"Liberation Sans", sans-serif' font-size="9.2" fill="#0a0a0a" text-anchor="middle"><text x="0" y="0" textLength="37.0" lengthAdjust="spacingAndGlyphs">CD45RA-</text><text x="0" y="11.3" textLength="28.0" lengthAdjust="spacingAndGlyphs">CCR7+</text></g>
<g transform="translate(437.5,657.8) rotate(-45)" font-family='"Liberation Sans", sans-serif' font-size="9.2" fill="#0a0a0a" text-anchor="middle"><text x="0" y="0" textLength="37.0" lengthAdjust="spacingAndGlyphs">CD45RA-</text><text x="0" y="11.3" textLength="25.2" lengthAdjust="spacingAndGlyphs">CCR7-</text></g>
<g transform="translate(479.4,658.8) rotate(-45)" font-family='"Liberation Sans", sans-serif' font-size="9.2" fill="#0a0a0a" text-anchor="middle"><text x="0" y="0" textLength="39.8" lengthAdjust="spacingAndGlyphs">CD45RA+</text><text x="0" y="11.3" textLength="25.2" lengthAdjust="spacingAndGlyphs">CCR7-</text></g>
<ellipse cx="101.5" cy="440.6" rx="2.8" ry="2.45" fill="none" stroke="#981531" stroke-width="0.95"/>
<ellipse cx="101.5" cy="446.5" rx="2.8" ry="2.45" fill="none" stroke="#981531" stroke-width="0.95"/>
<ellipse cx="101.5" cy="448" rx="2.8" ry="2.45" fill="none" stroke="#981531" stroke-width="0.95"/>
<ellipse cx="101.5" cy="474.8" rx="2.8" ry="2.45" fill="none" stroke="#981531" stroke-width="0.95"/>
<ellipse cx="101.5" cy="497" rx="2.8" ry="2.45" fill="none" stroke="#981531" stroke-width="0.95"/>
<ellipse cx="112.4" cy="448.9" rx="2.8" ry="2.45" fill="none" stroke="#981531" stroke-width="0.95"/>
<ellipse cx="112.4" cy="460.4" rx="2.8" ry="2.45" fill="none" stroke="#981531" stroke-width="0.95"/>
<ellipse cx="112.4" cy="462.5" rx="2.8" ry="2.45" fill="none" stroke="#981531" stroke-width="0.95"/>
<ellipse cx="112.4" cy="467.8" rx="2.8" ry="2.45" fill="none" stroke="#981531" stroke-width="0.95"/>
<ellipse cx="112.4" cy="470.4" rx="2.8" ry="2.45" fill="none" stroke="#981531" stroke-width="0.95"/>
<ellipse cx="112.4" cy="472.7" rx="2.8" ry="2.45" fill="none" stroke="#981531" stroke-width="0.95"/>
<ellipse cx="112.4" cy="491.7" rx="2.8" ry="2.45" fill="none" stroke="#981531" stroke-width="0.95"/>
<ellipse cx="112.4" cy="498.4" rx="2.8" ry="2.45" fill="none" stroke="#981531" stroke-width="0.95"/>
<ellipse cx="112.4" cy="514.1" rx="2.8" ry="2.45" fill="none" stroke="#981531" stroke-width="0.95"/>
<ellipse cx="165.8" cy="425.2" rx="2.8" ry="2.45" fill="none" stroke="#981531" stroke-width="0.95"/>
<ellipse cx="165.8" cy="426.4" rx="2.8" ry="2.45" fill="none" stroke="#981531" stroke-width="0.95"/>
<ellipse cx="165.8" cy="457.5" rx="2.8" ry="2.45" fill="none" stroke="#981531" stroke-width="0.95"/>
<ellipse cx="165.8" cy="479.2" rx="2.8" ry="2.45" fill="none" stroke="#981531" stroke-width="0.95"/>
<ellipse cx="165.8" cy="506.2" rx="2.8" ry="2.45" fill="none" stroke="#981531" stroke-width="0.95"/>
<ellipse cx="176.7" cy="445" rx="2.8" ry="2.45" fill="none" stroke="#981531" stroke-width="0.95"/>
<ellipse cx="176.7" cy="449.2" rx="2.8" ry="2.45" fill="none" stroke="#981531" stroke-width="0.95"/>
<ellipse cx="176.7" cy="454.2" rx="2.8" ry="2.45" fill="none" stroke="#981531" stroke-width="0.95"/>
<ellipse cx="176.7" cy="465.8" rx="2.8" ry="2.45" fill="none" stroke="#981531" stroke-width="0.95"/>
<ellipse cx="176.7" cy="468.5" rx="2.8" ry="2.45" fill="none" stroke="#981531" stroke-width="0.95"/>
<ellipse cx="176.7" cy="472.3" rx="2.8" ry="2.45" fill="none" stroke="#981531" stroke-width="0.95"/>
<ellipse cx="176.7" cy="480" rx="2.8" ry="2.45" fill="none" stroke="#981531" stroke-width="0.95"/>
<ellipse cx="176.7" cy="483.8" rx="2.8" ry="2.45" fill="none" stroke="#981531" stroke-width="0.95"/>
<ellipse cx="176.7" cy="498.8" rx="2.8" ry="2.45" fill="none" stroke="#981531" stroke-width="0.95"/>
<ellipse cx="208.6" cy="486.3" rx="2.8" ry="2.45" fill="none" stroke="#981531" stroke-width="0.95"/>
<ellipse cx="208.6" cy="505.5" rx="2.8" ry="2.45" fill="none" stroke="#981531" stroke-width="0.95"/>
<ellipse cx="208.6" cy="543.5" rx="2.8" ry="2.45" fill="none" stroke="#981531" stroke-width="0.95"/>
<ellipse cx="208.6" cy="548.8" rx="2.8" ry="2.45" fill="none" stroke="#981531" stroke-width="0.95"/>
<ellipse cx="219.4" cy="441.7" rx="2.8" ry="2.45" fill="none" stroke="#981531" stroke-width="0.95"/>
<ellipse cx="219.4" cy="519.4" rx="2.8" ry="2.45" fill="none" stroke="#981531" stroke-width="0.95"/>
<ellipse cx="219.4" cy="544.4" rx="2.8" ry="2.45" fill="none" stroke="#981531" stroke-width="0.95"/>
<ellipse cx="219.4" cy="552.1" rx="2.8" ry="2.45" fill="none" stroke="#981531" stroke-width="0.95"/>
<ellipse cx="219.4" cy="588.6" rx="2.8" ry="2.45" fill="none" stroke="#981531" stroke-width="0.95"/>
<ellipse cx="219.4" cy="596.8" rx="2.8" ry="2.45" fill="none" stroke="#981531" stroke-width="0.95"/>
<ellipse cx="219.4" cy="630.4" rx="2.8" ry="2.45" fill="none" stroke="#981531" stroke-width="0.95"/>
<ellipse cx="251.3" cy="428.7" rx="2.8" ry="2.45" fill="none" stroke="#981531" stroke-width="0.95"/>
<ellipse cx="251.3" cy="489.2" rx="2.8" ry="2.45" fill="none" stroke="#981531" stroke-width="0.95"/>
<ellipse cx="251.3" cy="504.2" rx="2.8" ry="2.45" fill="none" stroke="#981531" stroke-width="0.95"/>
<ellipse cx="251.3" cy="537.3" rx="2.8" ry="2.45" fill="none" stroke="#981531" stroke-width="0.95"/>
<ellipse cx="251.3" cy="545.8" rx="2.8" ry="2.45" fill="none" stroke="#981531" stroke-width="0.95"/>
<ellipse cx="261.9" cy="436.9" rx="2.8" ry="2.45" fill="none" stroke="#981531" stroke-width="0.95"/>
<ellipse cx="261.9" cy="470.6" rx="2.8" ry="2.45" fill="none" stroke="#981531" stroke-width="0.95"/>
<ellipse cx="261.9" cy="494" rx="2.8" ry="2.45" fill="none" stroke="#981531" stroke-width="0.95"/>
<ellipse cx="261.9" cy="495.3" rx="2.8" ry="2.45" fill="none" stroke="#981531" stroke-width="0.95"/>
<ellipse cx="261.9" cy="505.8" rx="2.8" ry="2.45" fill="none" stroke="#981531" stroke-width="0.95"/>
<ellipse cx="261.9" cy="537.3" rx="2.8" ry="2.45" fill="none" stroke="#981531" stroke-width="0.95"/>
<ellipse cx="261.9" cy="545" rx="2.8" ry="2.45" fill="none" stroke="#981531" stroke-width="0.95"/>
<ellipse cx="261.9" cy="578.1" rx="2.8" ry="2.45" fill="none" stroke="#981531" stroke-width="0.95"/>
<ellipse cx="261.9" cy="580" rx="2.8" ry="2.45" fill="none" stroke="#981531" stroke-width="0.95"/>
<ellipse cx="261.9" cy="630.4" rx="2.8" ry="2.45" fill="none" stroke="#981531" stroke-width="0.95"/>
<ellipse cx="294.0" cy="426.2" rx="2.8" ry="2.45" fill="none" stroke="#981531" stroke-width="0.95"/>
<ellipse cx="294.0" cy="431.2" rx="2.8" ry="2.45" fill="none" stroke="#981531" stroke-width="0.95"/>
<ellipse cx="294.0" cy="467.7" rx="2.8" ry="2.45" fill="none" stroke="#981531" stroke-width="0.95"/>
<ellipse cx="294.0" cy="472.9" rx="2.8" ry="2.45" fill="none" stroke="#981531" stroke-width="0.95"/>
<ellipse cx="294.0" cy="491.5" rx="2.8" ry="2.45" fill="none" stroke="#981531" stroke-width="0.95"/>
<ellipse cx="304.6" cy="424.8" rx="2.8" ry="2.45" fill="none" stroke="#981531" stroke-width="0.95"/>
<ellipse cx="304.6" cy="426.7" rx="2.8" ry="2.45" fill="none" stroke="#981531" stroke-width="0.95"/>
<ellipse cx="304.6" cy="429.6" rx="2.8" ry="2.45" fill="none" stroke="#981531" stroke-width="0.95"/>
<ellipse cx="304.6" cy="432.5" rx="2.8" ry="2.45" fill="none" stroke="#981531" stroke-width="0.95"/>
<ellipse cx="304.6" cy="435.4" rx="2.8" ry="2.45" fill="none" stroke="#981531" stroke-width="0.95"/>
<ellipse cx="304.6" cy="514.5" rx="2.8" ry="2.45" fill="none" stroke="#981531" stroke-width="0.95"/>
<ellipse cx="358.1" cy="410" rx="2.8" ry="2.45" fill="none" stroke="#981531" stroke-width="0.95"/>
<ellipse cx="358.1" cy="413.3" rx="2.8" ry="2.45" fill="none" stroke="#981531" stroke-width="0.95"/>
<ellipse cx="358.1" cy="461.9" rx="2.8" ry="2.45" fill="none" stroke="#981531" stroke-width="0.95"/>
<ellipse cx="358.1" cy="468.5" rx="2.8" ry="2.45" fill="none" stroke="#981531" stroke-width="0.95"/>
<ellipse cx="358.1" cy="529" rx="2.8" ry="2.45" fill="none" stroke="#981531" stroke-width="0.95"/>
<ellipse cx="368.8" cy="443.1" rx="2.8" ry="2.45" fill="none" stroke="#981531" stroke-width="0.95"/>
<ellipse cx="368.8" cy="444" rx="2.8" ry="2.45" fill="none" stroke="#981531" stroke-width="0.95"/>
<ellipse cx="368.8" cy="456.2" rx="2.8" ry="2.45" fill="none" stroke="#981531" stroke-width="0.95"/>
<ellipse cx="368.8" cy="458.1" rx="2.8" ry="2.45" fill="none" stroke="#981531" stroke-width="0.95"/>
<ellipse cx="368.8" cy="463.8" rx="2.8" ry="2.45" fill="none" stroke="#981531" stroke-width="0.95"/>
<ellipse cx="368.8" cy="469" rx="2.8" ry="2.45" fill="none" stroke="#981531" stroke-width="0.95"/>
<ellipse cx="368.8" cy="477.3" rx="2.8" ry="2.45" fill="none" stroke="#981531" stroke-width="0.95"/>
<ellipse cx="368.8" cy="479.6" rx="2.8" ry="2.45" fill="none" stroke="#981531" stroke-width="0.95"/>
<ellipse cx="368.8" cy="519.4" rx="2.8" ry="2.45" fill="none" stroke="#981531" stroke-width="0.95"/>
<ellipse cx="401.0" cy="460" rx="2.8" ry="2.45" fill="none" stroke="#981531" stroke-width="0.95"/>
<ellipse cx="401.0" cy="462.3" rx="2.8" ry="2.45" fill="none" stroke="#981531" stroke-width="0.95"/>
<ellipse cx="401.0" cy="495" rx="2.8" ry="2.45" fill="none" stroke="#981531" stroke-width="0.95"/>
<ellipse cx="401.0" cy="510.4" rx="2.8" ry="2.45" fill="none" stroke="#981531" stroke-width="0.95"/>
<ellipse cx="411.5" cy="430.2" rx="2.8" ry="2.45" fill="none" stroke="#981531" stroke-width="0.95"/>
<ellipse cx="411.5" cy="465.2" rx="2.8" ry="2.45" fill="none" stroke="#981531" stroke-width="0.95"/>
<ellipse cx="411.5" cy="467.7" rx="2.8" ry="2.45" fill="none" stroke="#981531" stroke-width="0.95"/>
<ellipse cx="411.5" cy="470.4" rx="2.8" ry="2.45" fill="none" stroke="#981531" stroke-width="0.95"/>
<ellipse cx="411.5" cy="496" rx="2.8" ry="2.45" fill="none" stroke="#981531" stroke-width="0.95"/>
<ellipse cx="411.5" cy="504.8" rx="2.8" ry="2.45" fill="none" stroke="#981531" stroke-width="0.95"/>
<ellipse cx="411.5" cy="516.9" rx="2.8" ry="2.45" fill="none" stroke="#981531" stroke-width="0.95"/>
<ellipse cx="411.5" cy="524.2" rx="2.8" ry="2.45" fill="none" stroke="#981531" stroke-width="0.95"/>
<ellipse cx="411.5" cy="528.5" rx="2.8" ry="2.45" fill="none" stroke="#981531" stroke-width="0.95"/>
<ellipse cx="443.7" cy="409.7" rx="2.8" ry="2.45" fill="none" stroke="#981531" stroke-width="0.95"/>
<ellipse cx="443.7" cy="411.0" rx="2.8" ry="2.45" fill="none" stroke="#981531" stroke-width="0.95"/>
<ellipse cx="443.7" cy="443.1" rx="2.8" ry="2.45" fill="none" stroke="#981531" stroke-width="0.95"/>
<ellipse cx="443.7" cy="459.8" rx="2.8" ry="2.45" fill="none" stroke="#981531" stroke-width="0.95"/>
<ellipse cx="443.7" cy="502.3" rx="2.8" ry="2.45" fill="none" stroke="#981531" stroke-width="0.95"/>
<ellipse cx="454.2" cy="410.8" rx="2.8" ry="2.45" fill="none" stroke="#981531" stroke-width="0.95"/>
<ellipse cx="454.2" cy="414.8" rx="2.8" ry="2.45" fill="none" stroke="#981531" stroke-width="0.95"/>
<ellipse cx="454.2" cy="426.7" rx="2.8" ry="2.45" fill="none" stroke="#981531" stroke-width="0.95"/>
<ellipse cx="454.2" cy="432.5" rx="2.8" ry="2.45" fill="none" stroke="#981531" stroke-width="0.95"/>
<ellipse cx="454.2" cy="436.3" rx="2.8" ry="2.45" fill="none" stroke="#981531" stroke-width="0.95"/>
<ellipse cx="454.2" cy="438.8" rx="2.8" ry="2.45" fill="none" stroke="#981531" stroke-width="0.95"/>
<ellipse cx="454.2" cy="441.2" rx="2.8" ry="2.45" fill="none" stroke="#981531" stroke-width="0.95"/>
<ellipse cx="454.2" cy="446.5" rx="2.8" ry="2.45" fill="none" stroke="#981531" stroke-width="0.95"/>
<ellipse cx="454.2" cy="457.5" rx="2.8" ry="2.45" fill="none" stroke="#981531" stroke-width="0.95"/>
<ellipse cx="454.2" cy="460" rx="2.8" ry="2.45" fill="none" stroke="#981531" stroke-width="0.95"/>
<ellipse cx="486.3" cy="411.9" rx="2.8" ry="2.45" fill="none" stroke="#981531" stroke-width="0.95"/>
<ellipse cx="486.3" cy="446.9" rx="2.8" ry="2.45" fill="none" stroke="#981531" stroke-width="0.95"/>
<ellipse cx="486.3" cy="468.7" rx="2.8" ry="2.45" fill="none" stroke="#981531" stroke-width="0.95"/>
<ellipse cx="486.3" cy="501.3" rx="2.8" ry="2.45" fill="none" stroke="#981531" stroke-width="0.95"/>
<ellipse cx="496.9" cy="410.4" rx="2.8" ry="2.45" fill="none" stroke="#981531" stroke-width="0.95"/>
<ellipse cx="496.9" cy="411.9" rx="2.8" ry="2.45" fill="none" stroke="#981531" stroke-width="0.95"/>
<ellipse cx="496.9" cy="413.4" rx="2.8" ry="2.45" fill="none" stroke="#981531" stroke-width="0.95"/>
<ellipse cx="496.9" cy="415.1" rx="2.8" ry="2.45" fill="none" stroke="#981531" stroke-width="0.95"/>
<ellipse cx="496.9" cy="417.3" rx="2.8" ry="2.45" fill="none" stroke="#981531" stroke-width="0.95"/>
<ellipse cx="496.9" cy="423.8" rx="2.8" ry="2.45" fill="none" stroke="#981531" stroke-width="0.95"/>
<ellipse cx="496.9" cy="451.7" rx="2.8" ry="2.45" fill="none" stroke="#981531" stroke-width="0.95"/>
<ellipse cx="496.9" cy="525.8" rx="2.8" ry="2.45" fill="none" stroke="#981531" stroke-width="0.95"/>
<line x1="97.2" y1="447.6" x2="106.3" y2="447.6" stroke="#981531" stroke-width="2.1"/>
<line x1="108.0" y1="468.1" x2="117.6" y2="468.1" stroke="#981531" stroke-width="2.1"/>
<line x1="161.3" y1="457.5" x2="170.0" y2="457.5" stroke="#981531" stroke-width="2.1"/>
<line x1="172.3" y1="468.5" x2="181.2" y2="468.5" stroke="#981531" stroke-width="2.1"/>
<line x1="204.2" y1="544.0" x2="213.3" y2="544.0" stroke="#981531" stroke-width="2.1"/>
<line x1="214.6" y1="592.5" x2="223.8" y2="592.5" stroke="#981531" stroke-width="2.1"/>
<line x1="246.9" y1="504.2" x2="255.8" y2="504.2" stroke="#981531" stroke-width="2.1"/>
<line x1="257.7" y1="515.6" x2="266.7" y2="515.6" stroke="#981531" stroke-width="2.1"/>
<line x1="289.8" y1="467.7" x2="298.8" y2="467.7" stroke="#981531" stroke-width="2.1"/>
<line x1="300.4" y1="427.3" x2="309.6" y2="427.3" stroke="#981531" stroke-width="2.1"/>
<line x1="353.8" y1="461.9" x2="362.5" y2="461.9" stroke="#981531" stroke-width="2.1"/>
<line x1="364.4" y1="463.8" x2="373.1" y2="463.8" stroke="#981531" stroke-width="2.1"/>
<line x1="396.5" y1="462.3" x2="405.4" y2="462.3" stroke="#981531" stroke-width="2.1"/>
<line x1="407.3" y1="479.2" x2="415.8" y2="479.2" stroke="#981531" stroke-width="2.1"/>
<line x1="439.2" y1="443.1" x2="448.5" y2="443.1" stroke="#981531" stroke-width="2.1"/>
<line x1="449.8" y1="438.8" x2="459.4" y2="438.8" stroke="#981531" stroke-width="2.1"/>
<line x1="481.9" y1="446.9" x2="491.2" y2="446.9" stroke="#981531" stroke-width="2.1"/>
<line x1="492.7" y1="414.8" x2="501.7" y2="414.8" stroke="#981531" stroke-width="2.1"/>
<path d="M99.2 433.5 V430.2 H114.9 V433.5" fill="none" stroke="#0a0a0a" stroke-width="1.25"/>
<text x="106.5" y="425.8" font-size="7.4" text-anchor="middle" font-family='"Liberation Sans", sans-serif' fill="#0a0a0a" textLength="27.5" lengthAdjust="spacingAndGlyphs" >p=0.254</text>
<path d="M163.3 417.1 V413.7 H178.7 V417.1" fill="none" stroke="#0a0a0a" stroke-width="1.25"/>
<text x="171.0" y="410.4" font-size="7.6" text-anchor="middle" font-family='"Liberation Serif", serif' fill="#0a0a0a" textLength="27.5" lengthAdjust="spacingAndGlyphs" >p=0.594</text>
<path d="M206.5 431.9 V428.7 H221.9 V431.9" fill="none" stroke="#0a0a0a" stroke-width="1.25"/>
<text x="214.0" y="424.8" font-size="7.6" text-anchor="middle" font-family='"Liberation Serif", serif' fill="#0a0a0a" textLength="27.0" lengthAdjust="spacingAndGlyphs" >p=0.073</text>
<path d="M248.1 422.0 V418.5 H263.8 V422.0" fill="none" stroke="#0a0a0a" stroke-width="1.25"/>
<text x="255.5" y="415.2" font-size="7.6" text-anchor="middle" font-family='"Liberation Serif", serif' fill="#0a0a0a" textLength="28.0" lengthAdjust="spacingAndGlyphs" >p=0.462</text>
<path d="M291.2 418.5 V415.2 H306.5 V418.5" fill="none" stroke="#0a0a0a" stroke-width="1.25"/>
<text x="298.7" y="411.3" font-size="7.6" text-anchor="middle" font-family='"Liberation Serif", serif' fill="#0a0a0a" textLength="27.8" lengthAdjust="spacingAndGlyphs" >p=0.310</text>
<path d="M355.4 541.5 V545.0 H371.5 V541.5" fill="none" stroke="#0a0a0a" stroke-width="1.25"/>
<text x="363.5" y="553.2" font-size="7.4" text-anchor="middle" font-family='"Liberation Sans", sans-serif' fill="#0a0a0a" textLength="27.5" lengthAdjust="spacingAndGlyphs" >p=0.594</text>
<path d="M399.0 537.3 V540.2 H414.4 V537.3" fill="none" stroke="#0a0a0a" stroke-width="1.25"/>
<text x="406.8" y="548.8" font-size="7.4" text-anchor="middle" font-family='"Liberation Sans", sans-serif' fill="#0a0a0a" textLength="27.5" lengthAdjust="spacingAndGlyphs" >p=0.254</text>
<path d="M440.8 518.1 V520.8 H456.5 V518.1" fill="none" stroke="#0a0a0a" stroke-width="1.25"/>
<text x="448.5" y="529.6" font-size="7.4" text-anchor="middle" font-family='"Liberation Sans", sans-serif' fill="#0a0a0a" textLength="27.5" lengthAdjust="spacingAndGlyphs" >p=0.953</text>
<path d="M482.5 541.2 V544.0 H498.5 V541.2" fill="none" stroke="#0a0a0a" stroke-width="1.25"/>
<text x="490.5" y="552.7" font-size="7.4" text-anchor="middle" font-family='"Liberation Sans", sans-serif' fill="#0a0a0a" textLength="27.5" lengthAdjust="spacingAndGlyphs" >p=0.165</text>
</svg>
</body></html>
